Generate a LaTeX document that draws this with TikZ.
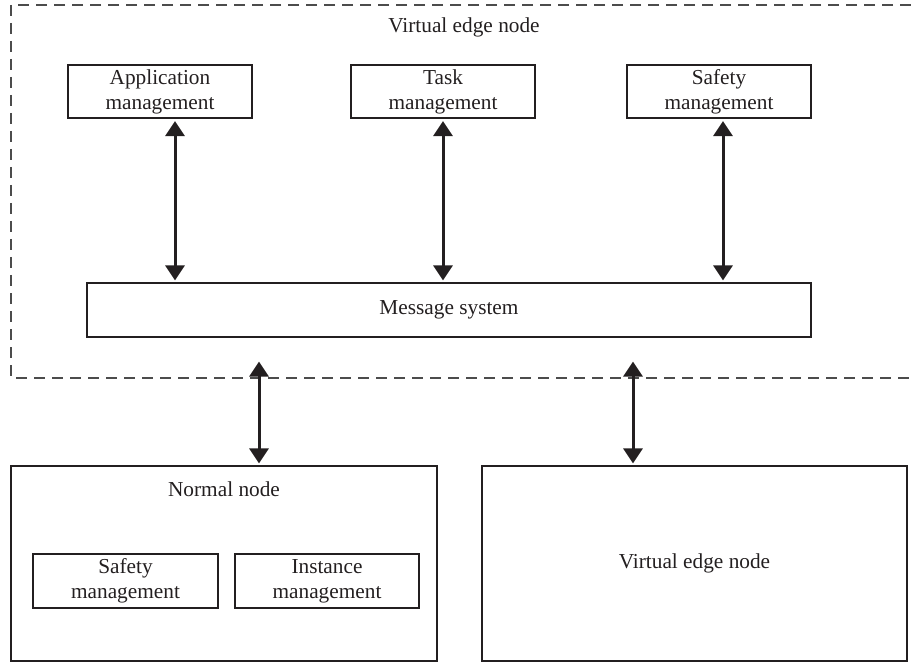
\documentclass[tikz,border=0pt]{standalone}
\usepackage{fontspec}
\setmainfont{Liberation Serif}
\usetikzlibrary{arrows.meta}
\definecolor{ink}{HTML}{231F20}
\begin{document}
\begin{tikzpicture}[x=1pt,y=-1pt,
  txt/.style={font=\fontsize{21.3}{25}\selectfont, text=ink},
  box/.style={txt, draw=ink, line width=1.1pt, inner sep=0pt, align=center},
  link/.style={draw=ink, line width=3pt,
    {Triangle[width=19pt,length=15pt]}-{Triangle[width=19pt,length=15pt]},
    shorten <=2.5pt, shorten >=2pt},
  dashline/.style={draw=black!70, line width=1.2pt, dash pattern=on 11pt off 7pt}]
\useasboundingbox (0,0) rectangle (911,663);

% dashed outer region (open on the right)
\draw[dashline] (911,5) -- (11,5) -- (11,378) -- (911,378);
\node[txt] (title) at (464,27) {Virtual edge node};

% top boxes
\node[box, minimum width=184pt, minimum height=53pt] (app)  at (160,91.5)   {Application\\management};
\node[box, minimum width=184pt, minimum height=53pt] (task) at (443,91.5)   {Task\\management};
\node[box, minimum width=184pt, minimum height=53pt] (safe) at (719,91.5)   {Safety\\management};

% message system
\node[box, minimum width=724pt, minimum height=54pt] (msg) at (449,310) {Message system};

% bottom boxes
\node[box, minimum width=426pt, minimum height=195pt] (normal) at (224,563.5) {};
\node[txt] (normaltitle) at (224,489) {Normal node};
\node[box, minimum width=185pt, minimum height=54pt] (nsafe) at (125.5,581) {Safety\\management};
\node[box, minimum width=184pt, minimum height=54pt] (ninst) at (327,581)   {Instance\\management};
\node[box, minimum width=425pt, minimum height=195pt] (vedge) at (694.5,563.5) {Virtual edge node};

% x positions of connectors
\coordinate (xa) at (175,0);
\coordinate (xt) at (443,0);
\coordinate (xs) at (723,0);
\coordinate (xl) at (259,0);
\coordinate (xr) at (633,0);

\draw[link] (app.south -| xa)  -- (msg.north -| xa);
\draw[link] (task.south -| xt) -- (msg.north -| xt);
\draw[link] (safe.south -| xs) -- (msg.north -| xs);
\draw[link, shorten <=24pt] (msg.south -| xl) -- (normal.north -| xl);
\draw[link, shorten <=24pt] (msg.south -| xr) -- (vedge.north -| xr);
\end{tikzpicture}
\end{document}
